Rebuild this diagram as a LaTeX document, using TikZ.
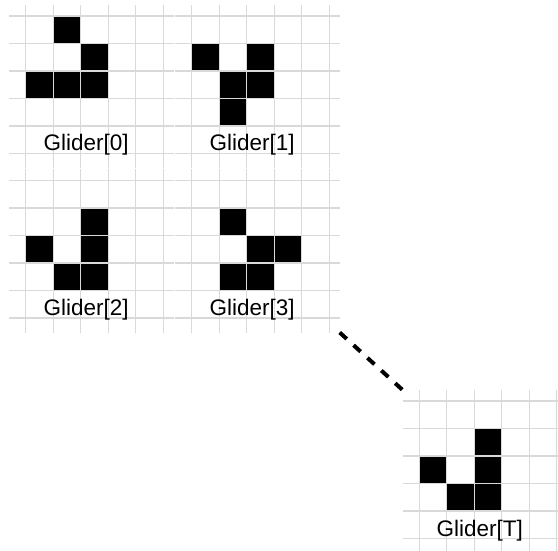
\documentclass[tikz,border=0pt]{standalone}
\usepackage{fontspec}
\setmainfont{Liberation Sans}
\tikzset{
  cell/.style={fill=black},
  gridline/.style={draw=gray!30, line width=1.2pt},
  glabel/.style={anchor=base, inner sep=0pt, font=\fontsize{22.5}{27}\selectfont},
  dashlink/.style={draw=black, line width=4pt, dash pattern=on 9.5pt off 9.3pt}
}
\newcommand{\gpanel}[5]{%
  \foreach \c/\r in {#4} {\fill[cell] ({#2+\c*27.5},{#3+\r*27.5}) rectangle ++(27.5,27.5);}
  \foreach \i in {0,...,5} {
    \draw[gridline] ({#2+\i*27.5},{#3-11}) -- ({#2+\i*27.5},{#3+152});
    \draw[gridline] ({#2-16.7},{#3+\i*27.5}) -- ({#2+148},{#3+\i*27.5});
  }
  \coordinate (#1nw) at ({#2-16.7},{#3-11});
  \coordinate (#1se) at ({#2+148},{#3+152});
  \node[glabel] (#1lab) at ({#2+60.5},{#3+135}) {#5};
}
\begin{document}
\begin{tikzpicture}[x=1pt,y=-1pt]
\useasboundingbox (0,0) rectangle (558,551);
\gpanel{pa}{25.7}{16}{1/0,2/1,0/2,1/2,2/2}{Glider[0]}
\gpanel{pb}{191.7}{16}{0/1,2/1,1/2,2/2,1/3}{Glider[1]}
\gpanel{pc}{25.7}{180.5}{2/1,0/2,2/2,1/3,2/3}{Glider[2]}
\gpanel{pd}{191.7}{180.5}{1/1,2/2,3/2,1/3,2/3}{Glider[3]}
\gpanel{pt}{419.3}{401}{2/1,0/2,2/2,1/3,2/3}{Glider[T]}
\draw[dashlink] (pdse) -- (ptnw);
\end{tikzpicture}
\end{document}
